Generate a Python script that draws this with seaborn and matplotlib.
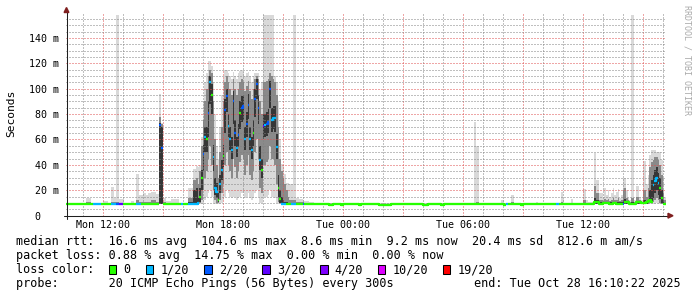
import numpy as np
import matplotlib
matplotlib.use("Agg")
import matplotlib.pyplot as plt
import seaborn as sns
from matplotlib.patches import Polygon, Rectangle
from matplotlib.lines import Line2D

# ---------------- data ----------------
# change points, minutes after graph start (Mon 10:10); graph ends at T_END
T_END = 1800
t_min = [
    0, 60, 75, 80, 105, 110, 125, 135, 145, 150, 160, 170, 175, 195, 205, 210, 220,
    225, 230, 240, 245, 255, 270, 280, 285, 290, 300, 315, 340, 345, 350, 365, 380, 390,
    395, 400, 405, 410, 415, 420, 425, 430, 435, 440, 445, 450, 455, 460, 465, 470, 475,
    480, 485, 490, 495, 500, 505, 510, 515, 520, 525, 530, 535, 540, 545, 550, 555, 560,
    565, 570, 575, 580, 585, 590, 595, 600, 605, 610, 615, 620, 625, 630, 635, 640,
    645, 650, 655, 660, 665, 670, 675, 680, 690, 700, 710, 715, 730, 745, 790, 800, 825,
    830, 880, 885, 940, 975, 990, 1035, 1070, 1085, 1125, 1135, 1225, 1230, 1240,
    1305, 1315, 1320, 1325, 1335, 1345, 1365, 1370, 1410, 1415, 1470, 1480, 1485, 1490,
    1495, 1515, 1520, 1550, 1560, 1565, 1585, 1590, 1600, 1605, 1610, 1615, 1620, 1625,
    1630, 1635, 1640, 1645, 1650, 1655, 1660, 1665, 1670, 1675, 1680, 1685, 1690, 1695,
    1705, 1710, 1720, 1725, 1730, 1740, 1745, 1750, 1755, 1760, 1765, 1770, 1775, 1780,
    1785, 1790, 1795,
]
median_ms = [
    9.4, 9.4, 9.4, 9.4, 9.4, 9.4, 9.4, 9.4, 9.4, 9.4, 9.4, 9.4, 9.4, 9.4, 9.4, 9.4, 9.4,
    9.4, 9.4, 9.4, 9.4, 9.4, 9.4, 71.4, 53.0, 9.4, 9.4, 9.4, 9.4, 9.4, 9.4, 9.4, 9.4, 9.4,
    10.0, 15, 30, 48.6, 62, 60, 80.6, 105, 95, 46, 21.6, 19, 12.4, 25, 36, 47, 83,
    94, 71, 60, 52, 90.5, 65, 53, 63.5, 81, 85, 86, 60, 72, 87, 60, 52, 65,
    92, 104, 85, 44, 36, 71, 71.7, 72, 74, 100, 75.6, 77, 77, 54, 21.6, 13,
    9.6, 9.6, 9.6, 9.4, 9.4, 9.4, 9.6, 9.6, 9.4, 9.4, 9.6, 9.4, 9.4, 9.4, 8.8, 9.4, 8.8,
    9.4, 8.8, 9.4, 8.8, 9.4, 9.0, 9.4, 8.8, 9.4, 8.8, 9.4, 9.4, 9.4, 9.4,
    9.4, 8.8, 9.0, 9.4, 9.4, 9.4, 8.8, 9.4, 9.4, 9.4, 9.4, 9.4, 9.4, 9.4,
    9.4, 9.4, 9.4, 9.4, 9.4, 9.4, 10.8, 10.8, 9.6, 9.6, 10.0, 10.0, 10.0, 10.0,
    9.6, 9.6, 10.0, 10.0, 9.6, 9.6, 9.6, 9.6, 9.4, 10.5, 10.5, 10.5, 9.6, 9.6,
    9.6, 10.5, 10.5, 10.0, 10.0, 10.5, 11.8, 12.4, 11.0, 24, 27, 29.5, 26, 21.8,
    13.7, 9.6, 9.6,
]
loss_n = [
    0, 0, 0, 1, 0, 0, 0, 1, 1, 2, 3, 0, 0, 0, 0, 1, 1,
    0, 0, 0, 0, 0, 0, 2, 2, 0, 0, 0, 0, 1, 0, 1, 1, 1,
    1, 0, 0, 2, 1, 0, 2, 1, 0, 1, 1, 1, 0, 1, 1, 0, 2,
    2, 1, 1, 1, 2, 2, 1, 2, 0, 2, 2, 1, 2, 2, 1, 1, 0,
    2, 2, 2, 1, 0, 3, 1, 2, 2, 2, 1, 1, 1, 1, 0, 0,
    1, 1, 1, 0, 0, 0, 1, 1, 0, 0, 2, 0, 0, 0, 0, 0, 0,
    0, 0, 0, 0, 0, 0, 0, 0, 0, 0, 0, 0, 0, 0,
    0, 0, 1, 0, 0, 0, 0, 0, 0, 0, 1, 0, 0, 0,
    0, 0, 0, 0, 0, 0, 0, 0, 0, 0, 0, 0, 0, 0,
    0, 0, 0, 0, 0, 0, 0, 0, 2, 0, 0, 0, 0, 0,
    0, 0, 0, 0, 0, 0, 0, 0, 0, 1, 1, 1, 1, 0,
    0, 0, 0,
]
ping_min = [
    9, 9, 9, 9, 9, 9, 9, 9, 9, 9, 9, 9, 9, 9, 9, 9, 9,
    9, 9, 9, 9, 9, 9, 9, 9, 9, 9, 9, 9, 9, 9, 9, 9, 9,
    9, 9, 9, 10, 12, 15, 18, 20, 15, 10, 9, 9, 9, 9, 10, 12, 15,
    20, 18, 15, 14, 15, 15, 12, 14, 15, 18, 18, 14, 15, 18, 14, 12, 14,
    18, 20, 15, 10, 10, 15, 15, 15, 16, 20, 15, 15, 14, 10, 9, 9,
    9, 9, 9, 9, 9, 9, 9, 9, 9, 9, 9, 9, 9, 9, 8.6, 9, 8.6,
    9, 8.6, 9, 8.6, 9, 8.6, 9, 8.6, 9, 8.6, 9, 9, 9, 9,
    9, 8.6, 8.6, 9, 9, 9, 8.6, 9, 9, 9, 9, 9, 9, 9,
    9, 9, 9, 9, 9, 9, 9, 9, 9, 9, 9, 9, 9, 9,
    9, 9, 9, 9, 9, 9, 9, 9, 9, 9, 9, 9, 9, 9,
    9, 9, 9, 9, 9, 9, 9, 9, 9, 9, 9, 10, 9, 9,
    9, 9, 9,
]
ping_p20 = [
    9, 9, 9, 9, 9, 9, 9, 9, 9, 9, 9, 9, 9, 9, 9, 9, 9,
    9, 9, 9, 9, 9, 9, 9.2, 9.2, 9, 9, 9, 9, 9, 9, 9, 9.1, 9.1,
    9.5, 10, 12, 20, 30, 35, 45, 55, 40, 20, 12, 10, 10, 12, 18, 25, 40,
    50, 40, 35, 30, 45, 38, 30, 35, 42, 48, 45, 32, 40, 48, 32, 28, 35,
    50, 60, 45, 22, 18, 40, 40, 42, 45, 55, 45, 45, 40, 25, 11, 10,
    9.2, 9.2, 9.2, 9, 9, 9, 9, 9, 9, 9, 9, 9, 9, 9, 8.6, 9, 8.6,
    9, 8.6, 9, 8.6, 9, 8.6, 9, 8.6, 9, 8.6, 9, 9, 9, 9,
    9, 8.6, 8.6, 9, 9, 9, 8.6, 9, 9, 9, 9, 9, 9, 9,
    9, 9, 9, 9, 9, 9, 9.2, 9.2, 9.2, 9.2, 9.2, 9.2, 9.2, 9.2,
    9.2, 9.2, 9.2, 9.2, 9.2, 9.2, 9.2, 9.2, 9.2, 9.2, 9.2, 9.2, 9.2, 9.2,
    9.2, 9.2, 9.2, 9.2, 9.2, 9.2, 9.5, 10, 10, 11, 12, 14, 12, 10,
    9.5, 9.2, 9.2,
]
ping_p40 = [
    9.2, 9.2, 9.2, 9.2, 9.2, 9.2, 9.2, 9.2, 9.2, 9.2, 9.2, 9.2, 9.2, 9.2, 9.2, 9.2, 9.2,
    9.2, 9.2, 9.2, 9.2, 9.2, 9.2, 9.5, 9.5, 9.2, 9.2, 9.2, 9.2, 9.2, 9.2, 9.2, 9.3, 9.3,
    9.5, 11, 20, 35, 50, 50, 62, 88, 80, 35, 16, 14, 10.5, 18, 28, 38, 65,
    82, 62, 52, 45, 72, 55, 46, 54, 68, 74, 75, 52, 62, 76, 52, 45, 55,
    78, 92, 72, 36, 30, 60, 62, 63, 65, 85, 66, 68, 66, 45, 15, 10,
    9.4, 9.4, 9.4, 9.2, 9.2, 9.2, 9.2, 9.2, 9.2, 9.2, 9.2, 9.2, 9.2, 9.2, 8.7, 9.2, 8.7,
    9.2, 8.7, 9.2, 8.7, 9.2, 8.7, 9.2, 8.7, 9.2, 8.7, 9.2, 9.2, 9.2, 9.2,
    9.2, 8.7, 8.7, 9.2, 9.2, 9.2, 8.7, 9.2, 9.2, 9.2, 9.2, 9.2, 9.2, 9.2,
    9.2, 9.2, 9.2, 9.2, 9.2, 9.2, 9.5, 9.5, 9.4, 9.4, 9.4, 9.4, 9.4, 9.4,
    9.4, 9.4, 9.4, 9.4, 9.4, 9.4, 9.4, 9.4, 9.4, 9.5, 9.5, 9.5, 9.4, 9.4,
    9.4, 9.5, 9.5, 9.4, 9.5, 9.5, 10, 11, 11, 14, 18, 20, 16, 13,
    10, 9.5, 9.4,
]
ping_p60 = [
    9.6, 9.6, 9.6, 9.6, 9.6, 9.6, 9.6, 9.6, 9.6, 9.6, 9.6, 9.6, 9.6, 9.6, 9.6, 9.6, 9.6,
    9.6, 9.6, 9.6, 9.6, 10.0, 9.6, 73, 70, 9.6, 9.6, 9.6, 9.6, 9.6, 9.6, 11, 20, 22,
    14, 22, 36, 56, 70, 70, 90, 110, 104, 56, 30, 26, 18, 32, 44, 56, 92,
    100, 80, 70, 62, 98, 75, 62, 72, 90, 94, 95, 70, 82, 96, 70, 62, 75,
    100, 108, 95, 55, 45, 80, 80, 82, 84, 106, 85, 86, 86, 64, 32, 20,
    15, 12, 11, 10.5, 10, 9.8, 9.8, 9.8, 9.8, 9.6, 9.6, 9.6, 9.6, 9.6, 9.0, 9.6, 9.0,
    9.6, 9.0, 9.6, 9.0, 9.6, 9.2, 9.6, 9.0, 9.6, 9.0, 9.6, 9.6, 9.6, 9.6,
    9.6, 9.0, 9.2, 9.6, 9.6, 9.6, 9.0, 9.6, 9.6, 9.6, 9.6, 9.6, 9.6, 9.6,
    9.6, 9.6, 9.6, 9.6, 9.6, 9.6, 14, 12, 10.5, 10.5, 10.5, 11, 10.5, 11,
    10.5, 10.5, 11, 10.5, 10.5, 11, 10.5, 10.5, 12, 13, 11.5, 11, 10, 10.5,
    10, 11.5, 11, 10.5, 12, 11.5, 13, 20, 28, 32, 36, 38, 34, 30,
    20, 12, 10,
]
ping_p80 = [
    9.8, 10.5, 9.8, 9.8, 9.8, 10.2, 9.8, 11, 10.5, 10.5, 10.2, 10.2, 9.8, 10.2, 9.8, 12, 11,
    11, 11, 10.5, 11, 12, 11, 78, 72, 11, 10, 10.2, 9.8, 9.8, 9.8, 14, 28, 30,
    25, 35, 55, 75, 90, 100, 110, 115, 112, 90, 60, 40, 30, 50, 70, 90, 105,
    110, 105, 100, 95, 108, 100, 95, 100, 105, 108, 105, 98, 102, 106, 98, 92, 100,
    108, 110, 108, 90, 80, 105, 105, 106, 108, 112, 110, 108, 105, 95, 70, 45,
    35, 30, 25, 20, 15, 12, 12, 12, 11, 10.5, 10.5, 10.2, 10.0, 9.8, 9.4, 9.8, 9.4,
    9.8, 9.4, 9.8, 9.4, 9.8, 9.6, 9.8, 9.4, 9.8, 9.4, 9.8, 10.0, 10.5, 9.8,
    10, 9.4, 9.6, 9.8, 10.5, 9.8, 9.4, 9.8, 9.8, 9.8, 9.8, 9.8, 11, 10,
    9.8, 10, 9.8, 12, 10, 9.8, 23, 17.6, 12, 12, 11.5, 13, 12, 13,
    11.5, 12, 14, 12, 12.5, 14, 11.5, 12, 20, 22, 14, 12, 11, 14,
    11, 15, 12, 11, 20, 15, 22, 38, 42, 44, 46, 46, 44, 40,
    32, 18, 12,
]
ping_max = [
    10, 14.2, 10, 10, 10, 11.5, 10, 22.4, 14, 158, 12.8, 12.8, 10, 11.5, 10, 33, 16,
    16, 17.6, 16, 17.6, 18.5, 17, 96, 73, 14, 11.5, 12.8, 10, 10, 10, 21.6, 37, 39,
    38, 40, 62, 90, 105, 112, 122, 122, 118, 105, 80, 55, 45, 70, 95, 108, 115,
    115, 112, 110, 108, 113, 110, 108, 112, 114, 115, 113, 110, 112, 113, 110, 105, 110,
    112, 112, 112, 100, 105, 158, 158, 158, 158, 158, 158, 158, 110, 105, 90, 60,
    41, 40, 33, 26, 26, 25, 25, 158, 14, 13, 12, 11.5, 10.5, 10, 9.8, 10, 9.8,
    10, 9.8, 10, 9.8, 10, 10, 10, 9.8, 10, 9.8, 10, 74, 55, 10,
    12, 9.8, 10, 10, 16, 10, 9.8, 10, 10.8, 10, 10, 10, 19, 13,
    10, 13, 10, 21, 12, 11, 49.6, 28, 17.6, 18, 14, 22, 16, 20,
    15, 18, 22, 16, 19, 21, 14, 16, 29.5, 29.5, 20, 14, 12, 158,
    12, 23, 15, 12, 43, 25, 32, 48, 52, 52, 52, 50, 50, 50,
    44, 30, 15,
]
for _arr in (median_ms, loss_n, ping_min, ping_p20, ping_p40, ping_p60, ping_p80, ping_max):
    assert len(_arr) == len(t_min), len(_arr)

loss_levels = [0, 1, 2, 3, 4, 10, 19]
loss_labels = ["0", "1/20", "2/20", "3/20", "4/20", "10/20", "19/20"]
loss_colors = ["#26ff00", "#00b8ff", "#0059ff", "#5e00ff", "#7e00ff", "#dd00ff", "#ff0000"]

xtick_minutes = [110, 290, 470, 650, 830, 1010, 1190, 1370, 1550, 1730]
xtick_labels = ["Mon 12:00", "", "Mon 18:00", "", "Tue 00:00", "", "Tue 06:00", "", "Tue 12:00", ""]
ytick_values = [0, 20, 40, 60, 80, 100, 120, 140]
ytick_labels = ["0   ", "20 m", "40 m", "60 m", "80 m", "100 m", "120 m", "140 m"]

legend_rtt = "median rtt:  16.6 ms avg  104.6 ms max  8.6 ms min  9.2 ms now  20.4 ms sd  812.6 m am/s"
legend_loss = "packet loss: 0.88 % avg  14.75 % max  0.00 % min  0.00 % now"
legend_probe = "probe:       20 ICMP Echo Pings (56 Bytes) every 300s"
legend_end = "end: Tue Oct 28 16:10:22 2025"

# ---------------- drawing ----------------
W, H = 697, 297
sns.set_theme(style="white")
plt.rcParams["font.family"] = ["DejaVu Sans Mono", "DejaVu Sans"]

fig = plt.figure(figsize=(W / 100, H / 100), dpi=100)
fig.patch.set_facecolor("white")


def fx(x):
    return x / W


def fy(y):
    return 1 - y / H


Y0 = 215.7
ax = fig.add_axes([fx(66), fy(Y0), 600 / W, (Y0 - 14.4) / H])
ax.set_facecolor("white")

te = np.array(list(t_min) + [T_END], dtype=float)


def ext(a):
    a = np.asarray(a, dtype=float)
    return np.append(a, a[-1])


ax.fill_between(te, ext(ping_min), ext(ping_max), step="post", color="#d9d9d9", lw=0, zorder=1)
ax.fill_between(te, ext(ping_p20), ext(ping_p80), step="post", color="#8a8a8a", lw=0, zorder=1.1)
ax.fill_between(te, ext(ping_p40), ext(ping_p60), step="post", color="#363636", lw=0, zorder=1.2)


def bucket(n):
    return max(i for i, lv in enumerate(loss_levels) if n >= lv)


# median: short horizontal dash per step, coloured by loss; neighbours of the same
# colour are joined only when the level barely changes (flat baseline)
N = len(t_min)
i = 0
while i < N:
    b = bucket(loss_n[i])
    xs, ys = [te[i], te[i + 1]], [median_ms[i], median_ms[i]]
    j = i + 1
    while j < N and bucket(loss_n[j]) == b and abs(median_ms[j] - median_ms[j - 1]) < 3:
        xs += [te[j], te[j + 1]]
        ys += [median_ms[j], median_ms[j]]
        j += 1
    sns.lineplot(x=xs, y=ys, color=loss_colors[b], linewidth=1.65, estimator=None,
                 sort=False, ax=ax, legend=False, solid_capstyle="butt", zorder=3)
    i = j

ax.set_xlim(0, T_END)
ax.set_ylim(0, 158.5)
ax.set_xlabel("")
ax.set_ylabel("")

ax.set_xticks(xtick_minutes)
ax.set_xticklabels(xtick_labels)
ax.set_xticks(np.arange(50, T_END, 60), minor=True)
ax.set_yticks(ytick_values)
ax.set_yticklabels(ytick_labels)
ax.set_yticks(np.arange(5, 158, 5), minor=True)

minor_c = (0.5, 0.5, 0.5, 0.4)
major_c = (0.87, 0.31, 0.31, 0.5)
ax.grid(which="minor", color=minor_c, linestyle=(0, (1, 2)), linewidth=0.72)
ax.grid(which="major", color=major_c, linestyle=(0, (1, 2)), linewidth=0.72)
ax.set_axisbelow(False)
for s in ax.spines.values():
    s.set_visible(False)

ax.tick_params(axis="x", which="major", length=2.2, width=0.72, color=major_c, pad=1.2,
               labelsize=7.2, labelcolor="black")
ax.tick_params(axis="x", which="minor", length=1.4, width=0.72, color=minor_c)
ax.tick_params(axis="y", which="major", length=1.5, width=0.72, color=major_c, pad=3.6,
               labelsize=7.2, labelcolor="black")
ax.tick_params(axis="y", which="minor", length=0)

# axis lines and arrows
axis_c = "#1f1f1f"
arrow_c = "#7f1f1f"
fig.add_artist(Line2D([fx(63.5), fx(668.5)], [fy(Y0), fy(Y0)], color=axis_c, lw=0.75, zorder=5))
fig.add_artist(Line2D([fx(66.5), fx(66.5)], [fy(218.5), fy(12)], color=axis_c, lw=0.75, zorder=5))
fig.add_artist(Polygon([(fx(668), fy(Y0 - 2.4)), (fx(673), fy(Y0)), (fx(668), fy(Y0 + 2.4))],
                       closed=True, color=arrow_c, transform=fig.transFigure, zorder=6))
fig.add_artist(Polygon([(fx(64.1), fy(12.5)), (fx(66.5), fy(7.5)), (fx(68.9), fy(12.5))],
                       closed=True, color=arrow_c, transform=fig.transFigure, zorder=6))

# texts
fig.text(fx(11), fy(113.5), "Seconds", rotation=90, ha="center", va="center", fontsize=8.1,
         color="black")
fig.text(fx(687.5), fy(5), "RRDTOOL / TOBI OETIKER", rotation=270, ha="center", va="top",
         fontsize=6, color="#aaaaaa")

LS = 8.45
fig.text(fx(16), fy(245), legend_rtt, fontsize=LS, va="baseline", color="black")
fig.text(fx(16), fy(259), legend_loss, fontsize=LS, va="baseline", color="black")
fig.text(fx(16), fy(273.3), "loss color:", fontsize=LS, va="baseline", color="black")
fig.text(fx(16), fy(287.3), legend_probe, fontsize=LS, va="baseline", color="black")
fig.text(fx(681), fy(287.3), legend_end, fontsize=LS, va="baseline", ha="right", color="black")

box_left = [108.5, 145.8, 204.2, 262.2, 320.0, 377.8, 442.7]
for bx, lab, col in zip(box_left, loss_labels, loss_colors):
    fig.add_artist(Rectangle((fx(bx), fy(273.7)), 7.5 / W, 8.5 / H, transform=fig.transFigure,
                             facecolor=col, edgecolor="black", linewidth=0.75))
    fig.text(fx(bx + 14.6), fy(273.3), lab, fontsize=LS, va="baseline", color="black")

fig.savefig("out.png", dpi=100, facecolor="white")
